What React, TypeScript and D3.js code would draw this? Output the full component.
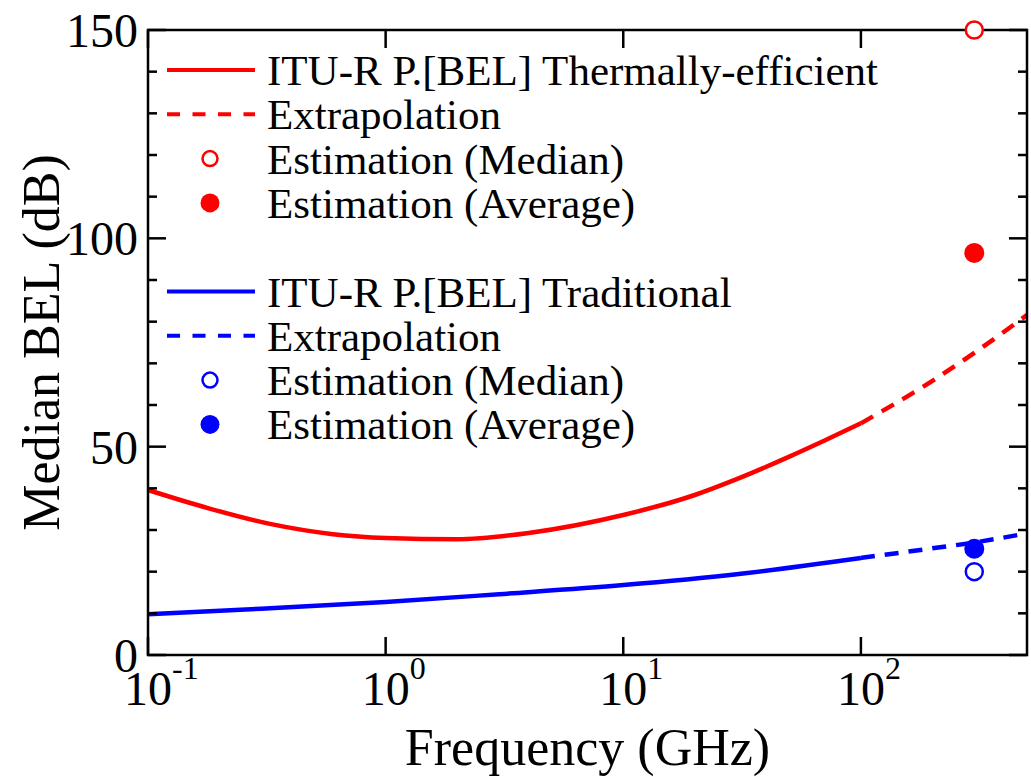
import * as d3 from "d3";

const W = 1031;
const H = 777;
const M = { top: 30, right: 4, bottom: 122, left: 148 };

// ITU-R P.[BEL] thermally-efficient (red)
const thermFreq = [0.1, 0.18, 0.33, 0.6, 1, 2, 4, 10, 20, 30, 50, 70, 100];
const thermBel = [39.6, 35.2, 31.4, 29.0, 28.1, 27.8, 29.3, 33.6, 38.4, 42.2, 47.6, 51.4, 55.6];
const thermExtFreq = [100, 200, 300, 500];
const thermExtBel = [55.6, 65.8, 72.5, 81.6];

// ITU-R P.[BEL] traditional (blue)
const tradFreq = [0.1, 0.3, 1, 3, 10, 30, 100];
const tradBel = [9.8, 11.1, 12.7, 14.6, 16.8, 19.4, 23.3];
const tradExtFreq = [100, 200, 300, 500];
const tradExtBel = [23.3, 25.6, 27.0, 29.2];

// estimations at 300 GHz
const estFreq = 300;
const thermMedian = 150;
const thermAverage = 96.5;
const tradMedian = 20;
const tradAverage = 25.5;

const xDecades = [-1, 0, 1, 2];
const yMajor = [0, 50, 100, 150];
const yMinor = [10, 20, 30, 40, 60, 70, 80, 90, 110, 120, 130, 140];

const RED = "#ff0000";
const BLUE = "#0000ff";
const FONT = "'Liberation Serif', 'Times New Roman', serif";

const legendRows = [
  { label: "ITU-R P.[BEL] Thermally-efficient", color: RED, kind: "line" },
  { label: "Extrapolation", color: RED, kind: "dash" },
  { label: "Estimation (Median)", color: RED, kind: "open" },
  { label: "Estimation (Average)", color: RED, kind: "fill" },
  { label: "", color: "", kind: "gap" },
  { label: "ITU-R P.[BEL] Traditional", color: BLUE, kind: "line" },
  { label: "Extrapolation", color: BLUE, kind: "dash" },
  { label: "Estimation (Median)", color: BLUE, kind: "open" },
  { label: "Estimation (Average)", color: BLUE, kind: "fill" },
];

export default function App() {
  const innerW = W - M.left - M.right;
  const innerH = H - M.top - M.bottom;
  const x = d3.scaleLog().domain([0.1, 500]).range([M.left, M.left + innerW]);
  const y = d3.scaleLinear().domain([0, 150]).range([M.top + innerH, M.top]);

  const line = d3
    .line<[number, number]>()
    .x((d) => x(d[0]))
    .y((d) => y(d[1]))
    .curve(d3.curveMonotoneX);

  const zip = (a: number[], b: number[]) => a.map((v, i) => [v, b[i]] as [number, number]);

  const x0 = M.left;
  const x1 = M.left + innerW;
  const y0 = M.top + innerH;
  const y1 = M.top;

  return (
    <svg
      width={W}
      height={H}
      style={{ position: "absolute", left: 0, top: 0, background: "#fff", fontFamily: FONT }}
    >
      <rect x={0} y={0} width={W} height={H} fill="#fff" />

      {/* curves */}
      <path d={line(zip(thermFreq, thermBel)) ?? ""} fill="none" stroke={RED} strokeWidth={4.5} />
      <path
        d={line(zip(thermExtFreq, thermExtBel)) ?? ""}
        fill="none"
        stroke={RED}
        strokeWidth={4.5}
        strokeDasharray="14,10"
      />
      <path d={line(zip(tradFreq, tradBel)) ?? ""} fill="none" stroke={BLUE} strokeWidth={4.5} />
      <path
        d={line(zip(tradExtFreq, tradExtBel)) ?? ""}
        fill="none"
        stroke={BLUE}
        strokeWidth={4.5}
        strokeDasharray="14,10"
      />

      {/* axes frame and ticks */}
      <rect x={x0} y={y1} width={innerW} height={innerH} fill="none" stroke="#000" strokeWidth={2.5} />
      {xDecades.map((e) => {
        const xp = x(Math.pow(10, e));
        return (
          <g key={"xt" + e}>
            <line x1={xp} x2={xp} y1={y0} y2={y0 - 18} stroke="#000" strokeWidth={2.5} />
            <line x1={xp} x2={xp} y1={y1} y2={y1 + 18} stroke="#000" strokeWidth={2.5} />
            <text x={xp} y={705} fontSize={48} textAnchor="middle">
              10
            </text>
            <text x={xp + 24} y={679} fontSize={32} textAnchor="start">
              {e === -1 ? "-1" : String(e)}
            </text>
          </g>
        );
      })}
      {yMajor.map((v) => (
        <g key={"ym" + v}>
          <line x1={x0} x2={x0 + 18} y1={y(v)} y2={y(v)} stroke="#000" strokeWidth={2.5} />
          <line x1={x1} x2={x1 - 18} y1={y(v)} y2={y(v)} stroke="#000" strokeWidth={2.5} />
          <text x={138} y={y(v) + 17} fontSize={48} textAnchor="end">
            {v}
          </text>
        </g>
      ))}
      {yMinor.map((v) => (
        <g key={"yn" + v}>
          <line x1={x0} x2={x0 + 9} y1={y(v)} y2={y(v)} stroke="#000" strokeWidth={2.5} />
          <line x1={x1} x2={x1 - 9} y1={y(v)} y2={y(v)} stroke="#000" strokeWidth={2.5} />
        </g>
      ))}

      {/* estimation markers */}
      <circle cx={x(estFreq)} cy={y(thermMedian)} r={8.5} fill="#fff" stroke={RED} strokeWidth={2.5} />
      <circle cx={x(estFreq)} cy={y(thermAverage)} r={10} fill={RED} />
      <circle cx={x(estFreq)} cy={y(tradAverage)} r={10} fill={BLUE} />
      <circle cx={x(estFreq)} cy={y(tradMedian)} r={8.5} fill="#fff" stroke={BLUE} strokeWidth={2.5} />

      {/* axis titles */}
      <text x={(x0 + x1) / 2} y={765} fontSize={52} textAnchor="middle">
        Frequency (GHz)
      </text>
      <text
        transform={`translate(59,${(y0 + y1) / 2}) rotate(-90)`}
        fontSize={52}
        textAnchor="middle"
      >
        Median BEL (dB)
      </text>

      {/* legend */}
      {legendRows.map((r, i) => {
        const cy = 70 + i * 44.3;
        if (r.kind === "gap") return null;
        return (
          <g key={"lg" + i}>
            {r.kind === "line" && (
              <line x1={167} x2={255} y1={cy} y2={cy} stroke={r.color} strokeWidth={4} />
            )}
            {r.kind === "dash" && (
              <line
                x1={167}
                x2={255}
                y1={cy}
                y2={cy}
                stroke={r.color}
                strokeWidth={4}
                strokeDasharray="13,12.5"
              />
            )}
            {r.kind === "open" && (
              <circle cx={210} cy={cy} r={7.5} fill="#fff" stroke={r.color} strokeWidth={2.5} />
            )}
            {r.kind === "fill" && <circle cx={210} cy={cy} r={9.5} fill={r.color} />}
            <text x={267} y={cy + 15} fontSize={43}>
              {r.label}
            </text>
          </g>
        );
      })}
    </svg>
  );
}
